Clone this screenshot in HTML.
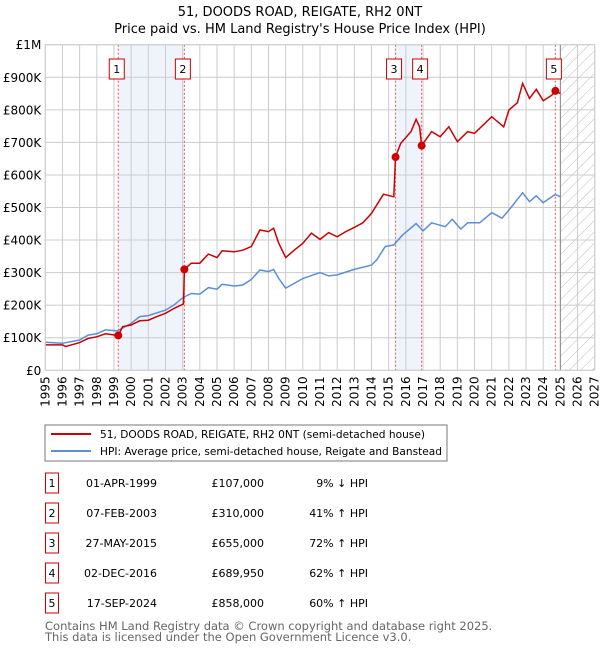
<!DOCTYPE html>
<html><head><meta charset="utf-8"><style>
body{margin:0;background:#fff;font-family:"Liberation Sans","DejaVu Sans",sans-serif;}
svg text{font-family:"DejaVu Sans","Liberation Sans",sans-serif;}
</style></head><body>
<svg id="chart" width="600" height="650" xmlns="http://www.w3.org/2000/svg">
<defs><pattern id="hatch" width="8" height="8" patternUnits="userSpaceOnUse" patternTransform="rotate(45)"><line x1="0" y1="0" x2="0" y2="8" stroke="#bbb" stroke-width="1"/></pattern></defs>
<text x="300" y="16" text-anchor="middle" font-size="13" fill="#000">51, DOODS ROAD, REIGATE, RH2 0NT</text>
<text x="300" y="33" text-anchor="middle" font-size="13" fill="#000">Price paid vs. HM Land Registry's House Price Index (HPI)</text>
<g id="plot"></g>
<rect x="45" y="425" width="402" height="36" fill="#fff" stroke="#777"/>
<line x1="51" y1="434" x2="91" y2="434" stroke="#cc0000" stroke-width="2"/>
<text x="100" y="438" font-size="10.6">51, DOODS ROAD, REIGATE, RH2 0NT (semi-detached house)</text>
<line x1="51" y1="451" x2="91" y2="451" stroke="#5b8fd4" stroke-width="2"/>
<text x="100" y="455" font-size="10.6">HPI: Average price, semi-detached house, Reigate and Banstead</text>
<g id="table"></g>
<text x="45" y="630" font-size="11.5" fill="#666">Contains HM Land Registry data © Crown copyright and database right 2025.</text>
<text x="45" y="641" font-size="11.5" fill="#666">This data is licensed under the Open Government Licence v3.0.</text>
</svg>
<script>
const hpiYears=[1995,1996,1997,1997.5,1998,1998.5,1999.2,2000,2000.5,2001,2002,2002.5,2003,2003.5,2004,2004.5,2005,2005.3,2006,2006.5,2007,2007.5,2008,2008.3,2008.6,2009,2009.5,2010,2011,2011.5,2012,2013,2014,2014.3,2014.8,2015.3,2015.8,2016.6,2017,2017.5,2018.3,2018.7,2019.2,2019.6,2020.3,2021,2021.6,2022,2022.8,2023.2,2023.6,2024,2024.7,2025];
const hpiValues=[86,83,93,108,112,124,121,144,165,168,185,201,223,236,234,254,249,264,259,262,279,308,303,310,282,252,267,282,300,290,293,310,323,339,380,385,415,451,428,453,441,464,434,453,453,484,467,492,545,518,536,515,540,533];
const priceYears=[1995,1996,1996.2,1997,1997.5,1998,1998.5,1999.25,1999.5,2000,2000.5,2001,2001.5,2002,2002.5,2003.05,2003.1,2003.5,2004,2004.5,2005,2005.3,2006,2006.5,2007,2007.5,2008,2008.3,2008.6,2009,2009.5,2010,2010.5,2011,2011.5,2012,2012.5,2013,2013.5,2014,2014.7,2015.3,2015.4,2015.7,2016.3,2016.6,2016.8,2016.92,2017.5,2018,2018.5,2019,2019.6,2020,2020.5,2021,2021.7,2022,2022.5,2022.8,2023.2,2023.6,2024,2024.5,2024.71,2025];
const priceValues=[78,78,73,85,98,103,112,107,134,139,152,154,165,175,190,204,310,329,329,357,346,367,364,369,380,431,426,436,390,346,369,390,421,402,423,410,426,439,453,482,541,533,655,697,733,771,748,690,733,717,748,702,733,728,753,779,748,799,822,881,835,863,828,845,858,850];
const saleYears=[1999.25,2003.1,2015.4,2016.92,2024.71];
const saleValues=[107,310,655,689.95,858];
const saleLabels=["1","2","3","4","5"];
const saleDates=["01-APR-1999","07-FEB-2003","27-MAY-2015","02-DEC-2016","17-SEP-2024"];
const salePrices=["£107,000","£310,000","£655,000","£689,950","£858,000"];
const saleHpi=["9% ↓ HPI","41% ↑ HPI","72% ↑ HPI","62% ↑ HPI","60% ↑ HPI"];
const yTicks=[0,100,200,300,400,500,600,700,800,900,1000];
const yTickLabels=["£0","£100K","£200K","£300K","£400K","£500K","£600K","£700K","£800K","£900K","£1M"];
const xTicks=[];for(let y=1995;y<=2027;y++)xTicks.push(y);

const NS="http://www.w3.org/2000/svg";
const X0=45.3,X1=594.7,Y0=370.3,Y1=44.7;
const xs=y=>X0+(y-1995)*(X1-X0)/32;
const ys=v=>Y0-v*(Y0-Y1)/1000;
function mk(tag,attrs,parent){const e=document.createElementNS(NS,tag);for(const k in attrs)e.setAttribute(k,attrs[k]);parent.appendChild(e);return e;}
const g=document.getElementById('plot');
for(const [a,b] of [[0,1],[2,3]]){
 const r=mk('rect',{x:xs(saleYears[a]),y:Y1,width:xs(saleYears[b])-xs(saleYears[a]),height:Y0-Y1,fill:'#eef3fc'},g);
 
 
}
const fut=mk('rect',{x:xs(2025),y:Y1,width:X1-xs(2025),height:Y0-Y1,fill:'url(#hatch)'},g);


xTicks.forEach(t=>{
 const l=mk('line',{x1:xs(t),x2:xs(t),y1:Y1,y2:Y0,stroke:'#cccccc','stroke-width':1},g);
 
 
 const tx=mk('text',{x:0,y:0,'font-size':12,'text-anchor':'end',transform:`translate(${xs(t)+4},${Y0+6}) rotate(-90)`},g);
 tx.textContent=t;
 
 
});
yTicks.forEach((t,i)=>{
 const l=mk('line',{x1:X0,x2:X1,y1:ys(t),y2:ys(t),stroke:'#cccccc','stroke-width':1},g);
 
 
 const tx=mk('text',{x:X0-4,y:ys(t)+4.5,'font-size':12,'text-anchor':'end'},g);
 tx.textContent=yTickLabels[i];
 
 
});
const nl=mk('line',{x1:xs(2025),x2:xs(2025),y1:Y1,y2:Y0,stroke:'#888','stroke-width':1},g);


saleYears.forEach((y,i)=>{
 const l=mk('line',{x1:xs(y),x2:xs(y),y1:Y1,y2:Y0,stroke:'#ee5555','stroke-width':1,'stroke-dasharray':'2,2'},g);
 
 
});
const pts=(xa,va)=>xa.map((x,i)=>xs(x).toFixed(1)+','+ys(va[i]).toFixed(1)).join(' ');
const hp=mk('polyline',{points:pts(hpiYears,hpiValues),fill:'none',stroke:'#5b8fd4','stroke-width':1.5},g);


const pp=mk('polyline',{points:pts(priceYears,priceValues),fill:'none',stroke:'#cc0000','stroke-width':1.5},g);


saleYears.forEach((y,i)=>{
 const c=mk('circle',{cx:xs(y),cy:ys(saleValues[i]),r:4,fill:'#cc0000'},g);
 
 
 const b=mk('rect',{x:xs(y)-9,y:59,width:15,height:20,fill:'#fff',stroke:'#cc0000'},g);
 
 
 const t=mk('text',{x:xs(y)-1.5,y:73,'font-size':11,'text-anchor':'middle'},g);
 t.textContent=saleLabels[i];
 
 
});
const fr=mk('rect',{x:X0,y:Y1,width:X1-X0,height:Y0-Y1,fill:'none',stroke:'#cccccc'},g);


const tb=document.getElementById('table');
saleLabels.forEach((s,i)=>{
 const cy=483+i*30;
 const b=mk('rect',{x:45.5,y:cy-10,width:13,height:20,fill:'#fff',stroke:'#cc0000'},tb);
 
 
 const cells=[[52,s,'middle'],[157,saleDates[i],'end'],[264,salePrices[i],'end'],[368,saleHpi[i],'end']];
 cells.forEach(([x,txt,anc])=>{
  const t=mk('text',{x:x,y:cy+4,'font-size':11,'text-anchor':anc},tb);
  t.textContent=txt;
  
  
 });
});
</script>
</body></html>
